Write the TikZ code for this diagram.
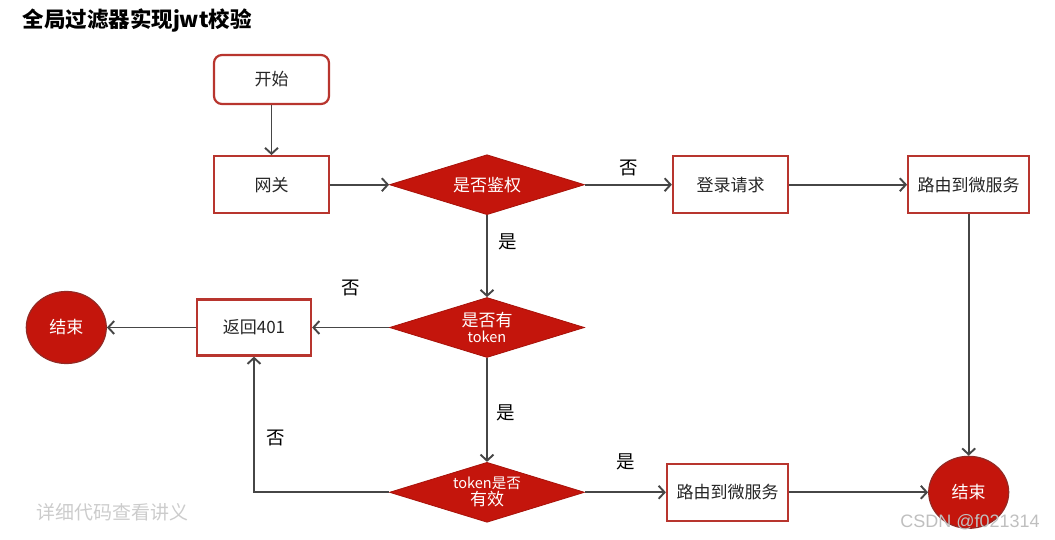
\documentclass[tikz,border=0pt]{standalone}
\usepackage{fontspec}
\setmainfont{Noto Sans CJK SC}
\newfontfamily\marksans{Liberation Sans}
\usepackage{tikz}
\usetikzlibrary{arrows.meta,positioning,shapes.geometric}

\definecolor{boxred}{HTML}{B8352E}
\definecolor{fillred}{HTML}{C4150C}
\definecolor{linegray}{HTML}{464646}

\tikzset{
  stepbox/.style={rectangle,draw=boxred,line width=2.2pt,fill=white,inner sep=0pt,minimum width=115pt,minimum height=57pt,text=black!85,font=\fontsize{17}{19}\selectfont},
  startbox/.style={stepbox,rounded corners=8pt,minimum height=49pt},
  askbox/.style={diamond,aspect=3.25,fill=fillred,draw=fillred!85!black,line width=.8pt,inner sep=0pt,minimum width=195pt,minimum height=60pt,text=white,align=center,font=\fontsize{17}{19}\selectfont},
  endbox/.style={ellipse,fill=fillred,draw=boxred!80!black,line width=1.2pt,inner sep=0pt,minimum width=80pt,minimum height=72pt,text=white,font=\fontsize{17}{19}\selectfont},
  flow/.style={->,draw=linegray,line width=1.9pt},
  tag/.style={font=\fontsize{18.5}{20}\selectfont,inner sep=0pt}
}

\begin{document}
\begin{tikzpicture}[x=1pt,y=-1pt,>={Straight Barb[length=6pt,width=13pt]},node distance=50pt]
  \useasboundingbox (0,0) rectangle (1055,540);
  \node (title) [anchor=west,font=\fontsize{21.5}{24}\selectfont\bfseries] at (19,21) {全局过滤器实现jwt校验};

  \node (start) [startbox] at (271.5,79.5) {开始};
  \node (gate) [stepbox,below=50pt of start] {网关};
  \node (auth) [askbox,right=59pt of gate] {是否鉴权};
  \node (login) [stepbox,right=87pt of auth] {登录请求};
  \node (routea) [stepbox,right=118pt of login,minimum width=121pt] {路由到微服务};
  \node (hastoken) [askbox,below=82pt of auth] {是否有\\[-3pt]{\fontsize{14.5}{16}\selectfont token}};
  \node (back) [stepbox,left=77pt of hastoken,minimum width=114pt,minimum height=56pt] {返回401};
  \node (endl) [endbox,left=89pt of back] {结束};
  \node (valid) [askbox,below=104pt of hastoken] {{\fontsize{14.5}{16}\selectfont token是否}\\[-2pt]有效};
  \node (routeb) [stepbox,right=81pt of valid,minimum width=121pt] {路由到微服务};
  \node (endr) [endbox,right=139pt of routeb] {结束};
  \coordinate (corner) at (back.south |- valid.west);

  \draw [flow] (start) -- (gate);
  \draw [flow] (gate) -- (auth);
  \draw [flow] (auth) -- node[tag,midway,above=8pt] {否} (login);
  \draw [flow] (login) -- (routea);
  \draw [flow] (auth) -- node[tag,pos=.33,right=11pt] {是} (hastoken);
  \draw [flow] (hastoken) -- node[tag,midway,above=31pt] {否} (back);
  \draw [flow] (back) -- (endl);
  \draw [flow] (hastoken) -- node[tag,pos=.53,right=9pt] {是} (valid);
  \draw [flow] (valid.west) -- (corner) -- node[tag,pos=.4,right=12pt] {否} (back.south);
  \draw [flow] (valid) -- node[tag,midway,above=21pt] {是} (routeb);
  \draw [flow] (routeb) -- (endr);
  \draw [flow] (routea) -- (endr);

  \node (notes) [text=black!20,font=\fontsize{19}{21}\selectfont] at (112,512) {详细代码查看讲义};
  \node (mark) [text=black!25,font=\marksans\fontsize{18}{20}\selectfont] at (970,522) {CSDN @f021314};
\end{tikzpicture}
\end{document}
